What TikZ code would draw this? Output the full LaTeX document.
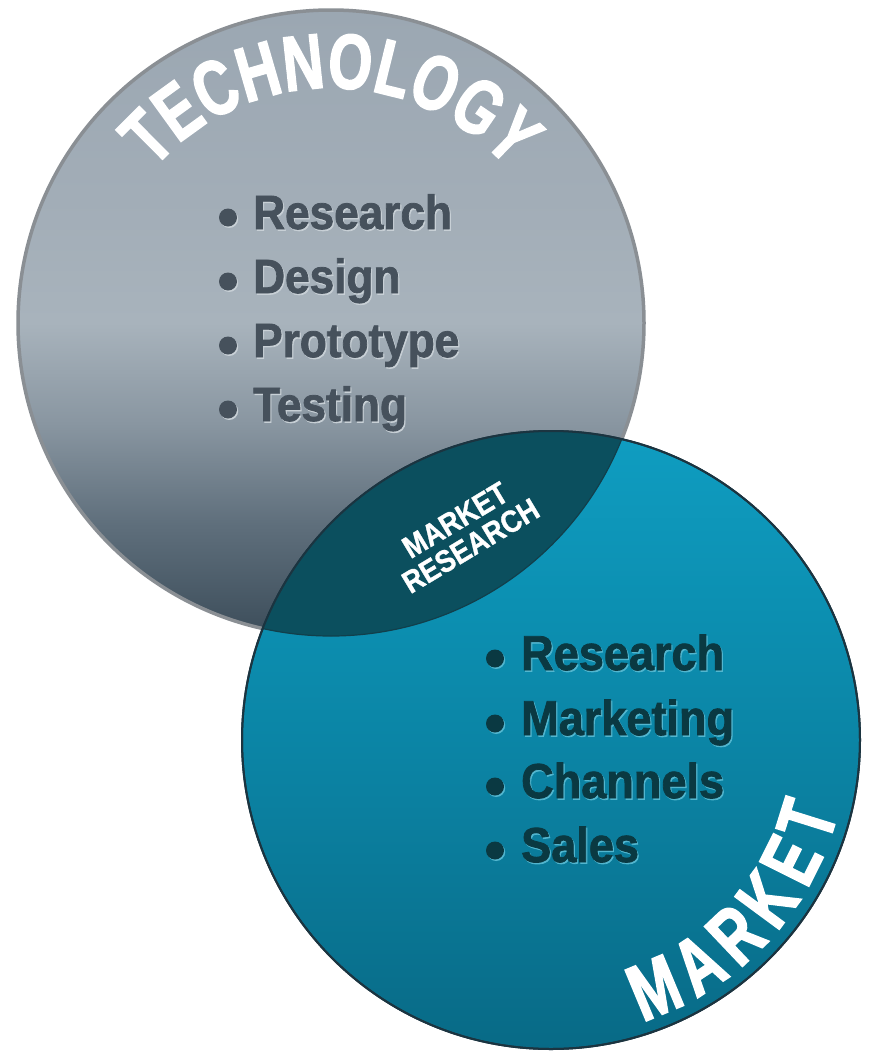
\documentclass[tikz,border=0pt]{standalone}
\usepackage{fontspec}
\usetikzlibrary{decorations.text}
\newfontfamily\listfont{Liberation Sans Bold}[FakeStretch=0.92, FakeBold=1.6]
\newfontfamily\titlefont{Liberation Sans Bold}[FakeStretch=0.72, FakeBold=2]
\newfontfamily\lensfont{Liberation Sans Bold}[FakeStretch=0.88, FakeBold=1]
\definecolor{techA}{HTML}{9BA7B2}
\definecolor{techB}{HTML}{A2ADB7}
\definecolor{techC}{HTML}{A8B3BC}
\definecolor{techD}{HTML}{8996A1}
\definecolor{techE}{HTML}{5F6F7C}
\definecolor{techF}{HTML}{3C4D5A}
\definecolor{techrim}{HTML}{8A8F94}
\definecolor{mkA}{HTML}{0F9DC1}
\definecolor{mkB}{HTML}{0C90B2}
\definecolor{mkC}{HTML}{0B80A0}
\definecolor{mkD}{HTML}{086A86}
\definecolor{mkrim}{HTML}{1B3440}
\definecolor{lensfill}{HTML}{0B4F5E}
\definecolor{lensedge}{HTML}{123F4B}
\definecolor{techtext}{HTML}{46515C}
\definecolor{techhl}{HTML}{C8D0D6}
\definecolor{mktext}{HTML}{0A3942}
\definecolor{mkhl}{HTML}{52B6CF}
\pgfdeclareverticalshading{techshade}{100bp}{color(0bp)=(techF); color(25bp)=(techF); color(34bp)=(techE); color(42bp)=(techD); color(50bp)=(techC); color(60bp)=(techB); color(75bp)=(techA); color(100bp)=(techA)}
\pgfdeclareverticalshading{mkshade}{100bp}{color(0bp)=(mkD); color(25bp)=(mkD); color(45bp)=(mkC); color(61bp)=(mkB); color(75bp)=(mkA); color(100bp)=(mkA)}
\tikzset{
  listtxt/.style={anchor=base west, inner sep=0pt, font=\listfont\fontsize{48}{48}\selectfont},
  techitem/.style={listtxt, text=techtext},
  techlight/.style={listtxt, text=techhl},
  mkitem/.style={listtxt, text=mktext, font=\listfont\fontsize{49}{49}\selectfont},
  mklight/.style={listtxt, text=mkhl, font=\listfont\fontsize{49}{49}\selectfont},
  techdot/.style={circle, inner sep=0pt, minimum size=18pt, fill=techtext},
  techdotl/.style={circle, inner sep=0pt, minimum size=18pt, fill=techhl},
  mkdot/.style={circle, inner sep=0pt, minimum size=18pt, fill=mktext},
  mkdotl/.style={circle, inner sep=0pt, minimum size=18pt, fill=mkhl},
}
\begin{document}
\begin{tikzpicture}[x=1pt,y=1pt]
\useasboundingbox (0,-1055) rectangle (870,0);
\fill[white] (0,-1055) rectangle (870,0);
% circles
\node[circle, minimum size=626pt, inner sep=0pt, shading=techshade, draw=techrim, line width=3.5pt] (tech) at (331,-323) {};
\node[circle, minimum size=618pt, inner sep=0pt, shading=mkshade, draw=mkrim, line width=2pt] (market) at (551,-740) {};
% lens
\begin{scope}
  \clip (tech.center) circle[radius=313];
  \fill[lensfill] (market.center) circle[radius=309];
\end{scope}
\begin{scope}
  \clip (market.center) circle[radius=309];
  \draw[lensedge, line width=1.2pt] (tech.center) circle[radius=313];
\end{scope}
\draw[mkrim, line width=2pt] (market.center) circle[radius=309];
% TECHNOLOGY
\path[decorate, decoration={text along path, text align=fit to path, text color=white,
  text={|\titlefont\fontsize{78}{78}\selectfont|TECHNOLOGY}}]
  (tech.center) ++(139:235) arc[start angle=139, end angle=41, radius=235];
% MARKET
\path[decorate, decoration={text along path, text align=fit to path, text color=white,
  text={|\titlefont\fontsize{80}{80}\selectfont|MARKET}}]
  (market.center) ++(-72:296) arc[start angle=-72, end angle=-14, radius=296];
% lens text
\node[rotate=31, align=center, text=white, inner sep=0pt,
  font=\lensfont\fontsize{31}{30}\selectfont] (mr) at (463,-533) {MARKET\\RESEARCH};
% technology list
\foreach \t/\y [count=\i] in {Research/229, Design/293, Prototype/357, Testing/421}{
  \node[techdotl] (tbl\i) at (229.2,-\y+10) {};
  \node[techdot] (tb\i) at (228,-\y+11.5) {};
  \node[techlight] (tl\i) at (254.2,-\y-1.5) {\t};
  \node[techitem] (ti\i) at (253,-\y) {\t};
}
% market list
\foreach \t/\y [count=\i] in {Research/670, Marketing/735, Channels/798, Sales/862}{
  \node[mkdotl] (mbl\i) at (496.2,-\y+10) {};
  \node[mkdot] (mb\i) at (495,-\y+11.5) {};
  \node[mklight] (ml\i) at (522.2,-\y-1.5) {\t};
  \node[mkitem] (mi\i) at (521,-\y) {\t};
}
\end{tikzpicture}
\end{document}
